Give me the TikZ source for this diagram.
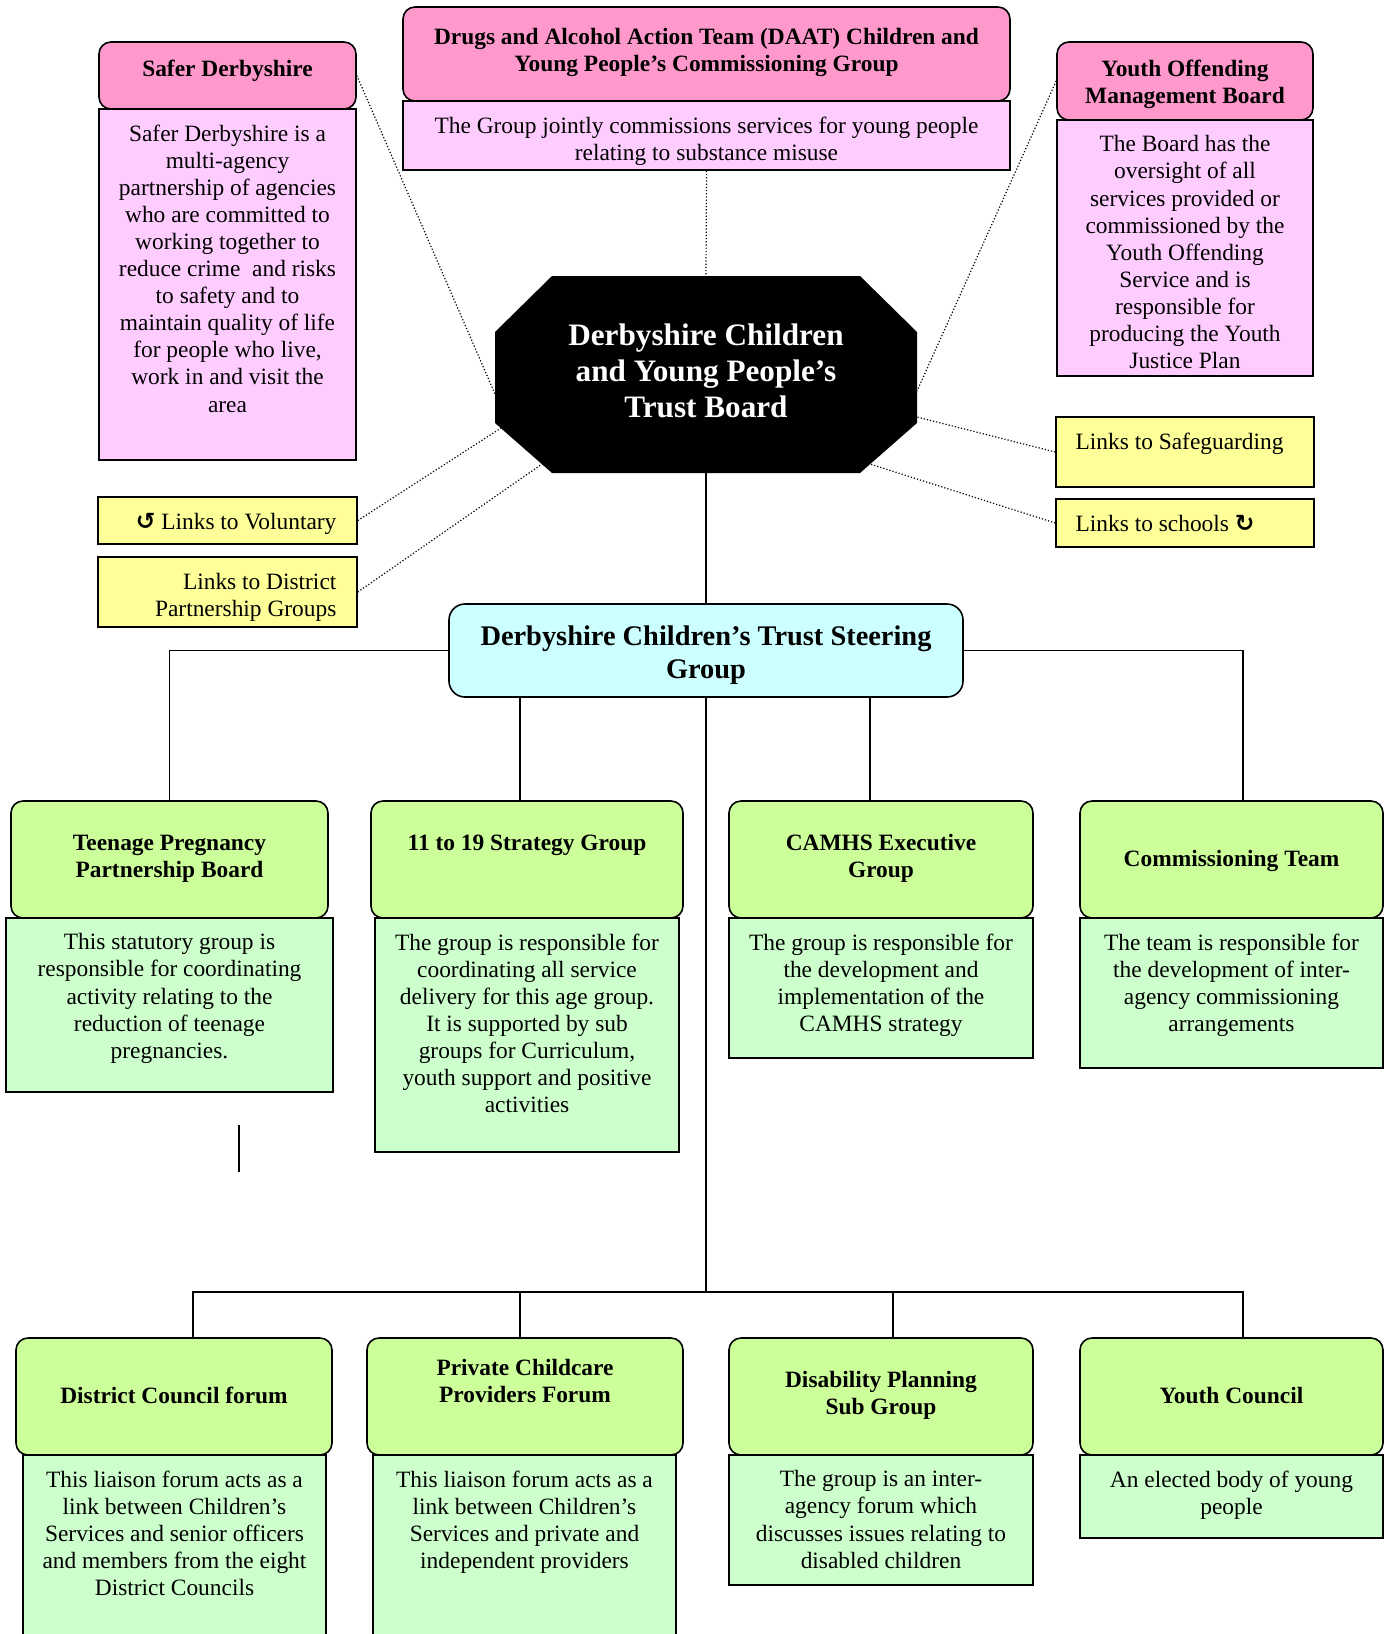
\documentclass[tikz,border=0pt]{standalone}
\usepackage{fontspec}
\setmainfont{Liberation Serif}
\newfontfamily\symf{DejaVu Sans}
\usetikzlibrary{positioning,fit}
\definecolor{hpink}{HTML}{FF99CC}
\definecolor{bpink}{HTML}{FFCCFF}
\definecolor{lyellow}{HTML}{FFFF99}
\definecolor{scyan}{HTML}{CCFFFF}
\definecolor{hgreen}{HTML}{CCFF99}
\definecolor{bgreen}{HTML}{CCFFCC}
\tikzstyle{hd}=[draw=black,line width=.8pt,rounded corners=6pt,inner sep=0pt]
\tikzstyle{hp}=[hd,fill=hpink]
\tikzstyle{hg}=[hd,fill=hgreen]
\tikzstyle{bx}=[draw=black,line width=.8pt,inner sep=0pt]
\tikzstyle{bp}=[bx,fill=bpink]
\tikzstyle{bg}=[bx,fill=bgreen]
\tikzstyle{lk}=[bx,fill=lyellow]
\tikzstyle{tx}=[inner sep=0pt,align=center,font=\fontsize{11.7}{13.55}\selectfont]
\tikzstyle{ht}=[tx,font=\fontsize{11.7}{13.55}\selectfont\bfseries]
\tikzstyle{oct}=[minimum width=211pt,minimum height=98.5pt,inner sep=0pt,text=white,align=center,font=\fontsize{15.6}{18}\selectfont\bfseries]
\tikzstyle{dl}=[densely dotted,line width=.6pt]
\tikzstyle{ln}=[line width=.7pt]

\begin{document}
\begin{tikzpicture}[x=.5pt,y=-.5pt]
\useasboundingbox (0,0) rectangle (1386,1634);
\node[hp,fit={(99,42) (356,109)}] (saferH) {};
\node[ht] (saferHT) at ([yshift=2.2pt]saferH) {Safer Derbyshire};
\node[bp,fit={(99,109) (356,460)}] (saferB) {};
\node[tx,below=8pt of saferB.north] (saferT) {Safer Derbyshire is a\\multi-agency\\partnership of agencies\\who are committed to\\working together to\\reduce crime\ \ and risks\\to safety and to\\maintain quality of life\\for people who live,\\work in and visit the\\area};
\node[hp,fit={(403,7) (1010,101)}] (daatH) {};
\node[ht] (daatHT) at ([yshift=.6pt]daatH) {Drugs and Alcohol Action Team (DAAT) Children and\\Young People’s Commissioning Group};
\node[bp,fit={(403,101) (1010,170)}] (daatB) {};
\node[tx,below=8pt of daatB.north] (daatT) {The Group jointly commissions services for young people\\relating to substance misuse};
\node[hp,fit={(1057,42) (1313,120)}] (youthH) {};
\node[ht] (youthHT) at ([yshift=-1.8pt]youthH) {Youth Offending\\Management Board};
\node[bp,fit={(1057,120) (1313,376)}] (youthB) {};
\node[tx,below=8pt of youthB.north] (youthT) {The Board has the\\oversight of all\\services provided or\\commissioned by the\\Youth Offending\\Service and is\\responsible for\\producing the Youth\\Justice Plan};

\fill (552,276) -- (860,276) -- (917,332) -- (917,423) -- (860,473) -- (552,473) -- (495,423) -- (495,332) -- cycle;
\node[oct] (trust) at (706,374.5) {};
\node[oct] (trustT) at ([yshift=2pt]trust) {Derbyshire Children\\and Young People’s\\Trust Board};
\coordinate (tw1) at (495,394);
\coordinate (tw2) at (501,428);
\coordinate (tw3) at (542,464);
\coordinate (te1) at (917,391);
\coordinate (te2) at (917,417);
\coordinate (te3) at (870,464);

\node[lk,fit={(98,497) (357,544)}] (volLk) {};
\node[tx,anchor=east] (volT) at ([xshift=-10.5pt,yshift=-1.5pt]volLk.east) {{\symf\bfseries ↺} Links to Voluntary};
\node[lk,fit={(98,557) (357,627)}] (distLk) {};
\node[tx,anchor=east,align=right] (distT) at ([xshift=-10.5pt,yshift=-2.5pt]distLk.east) {Links to District\\Partnership Groups};
\node[lk,fit={(1056,417) (1314,487)}] (safeLk) {};
\node[tx,anchor=west] (safeT) at ([xshift=10pt,yshift=-14pt]safeLk.north west) {Links to Safeguarding};
\node[lk,fit={(1056,499) (1314,547)}] (schLk) {};
\node[tx,anchor=west] (schT) at ([xshift=10pt]schLk.west) {Links to schools {\symf\bfseries ↻}};
\node[hd,fill=scyan,rounded corners=8pt,fit={(449,604) (963,697)}] (steer) {};
\node[ht,font=\fontsize{14.2}{16.6}\selectfont\bfseries] (steerT) at ([yshift=-2.2pt]steer) {Derbyshire Children’s Trust Steering\\Group};

\node[hg,fit={(11,801) (328,918)}] (teenH) {};
\node[ht] (teenHT) at ([yshift=.4pt]teenH) {Teenage Pregnancy\\Partnership Board};
\node[bg,fit={(6,918) (333,1092)}] (teenB) {};
\node[tx,below=8pt of teenB.north] (teenT) {This statutory group is\\responsible for coordinating\\activity relating to the\\reduction of teenage\\pregnancies.};
\node[hg,fit={(371,801) (683,918)}] (ninH) {};
\node[ht] (ninHT) at ([yshift=-.6pt]ninH) {11 to 19 Strategy Group\\\strut};
\node[bg,fit={(375,918) (679,1152)}] (ninB) {};
\node[tx,below=8pt of ninB.north] (ninT) {The group is responsible for\\coordinating all service\\delivery for this age group.\\It is supported by sub\\groups for Curriculum,\\youth support and positive\\activities};
\node[hg,fit={(729,801) (1033,918)}] (camH) {};
\node[ht] (camHT) at ([yshift=.4pt]camH) {CAMHS Executive\\Group};
\node[bg,fit={(729,918) (1033,1058)}] (camB) {};
\node[tx,below=8pt of camB.north] (camT) {The group is responsible for\\the development and\\implementation of the\\CAMHS strategy};
\node[hg,fit={(1080,801) (1383,918)}] (commH) {};
\node[ht] (commHT) at ([yshift=-.7pt]commH) {Commissioning Team};
\node[bg,fit={(1080,918) (1383,1068)}] (commB) {};
\node[tx,below=8pt of commB.north] (commT) {The team is responsible for\\the development of inter-\\agency commissioning\\arrangements};

\node[hg,fit={(16,1338) (332,1455)}] (dcH) {};
\node[ht] (dcHT) at ([yshift=.4pt]dcH) {District Council forum};
\node[bg,fit={(23,1455) (326,1645)}] (dcB) {};
\node[tx,below=8pt of dcB.north] (dcT) {This liaison forum acts as a\\link between Children’s\\Services and senior officers\\and members from the eight\\District Councils};
\node[hg,fit={(367,1338) (683,1455)}] (pcH) {};
\node[ht] (pcHT) at ([yshift=-1.1pt]pcH) {Private Childcare\\Providers Forum\\\strut};
\node[bg,fit={(373,1455) (676,1645)}] (pcB) {};
\node[tx,below=8pt of pcB.north] (pcT) {This liaison forum acts as a\\link between Children’s\\Services and private and\\independent providers};
\node[hg,fit={(729,1338) (1033,1455)}] (dsH) {};
\node[ht] (dsHT) at ([yshift=.4pt]dsH) {Disability Planning\\Sub Group};
\node[bg,fit={(729,1455) (1033,1585)}] (dsB) {};
\node[tx,below=8pt of dsB.north] (dsT) {The group is an inter-\\agency forum which\\discusses issues relating to\\disabled children};
\node[hg,fit={(1080,1338) (1383,1455)}] (ycH) {};
\node[ht] (ycHT) at ([yshift=.4pt]ycH) {Youth Council};
\node[bg,fit={(1080,1455) (1383,1538)}] (ycB) {};
\node[tx,below=8pt of ycB.north] (ycT) {An elected body of young\\people};

\draw[dl] (saferH.east) -- (tw1);
\draw[dl] (daatB.south) -- (trust.north);
\draw[dl] (youthH.west) -- (te1);
\draw[dl] (volLk.east) -- (tw2);
\draw[dl] (distLk.east) -- (tw3);
\draw[dl] (safeLk.west) -- (te2);
\draw[dl] (schLk.west) -- (te3);

\draw[ln] (trust.south) -- (steer.north);
\draw[ln] (steer.west) -| (teenH.north);
\draw[ln] (steer.east) -| (commH.north -| 1243,0);
\draw[ln] (steer.south -| 520,0) -- (ninH.north -| 520,0);
\draw[ln] (steer.south -| 870,0) -- (camH.north -| 870,0);
\coordinate (bus) at (706,1292);
\draw[ln] (steer.south) -- (bus);
\draw[ln] (dcH.north -| 193,0) |- (bus) -| (ycH.north -| 1243,0);
\foreach \x/\n in {520/pcH,893/dsH} \draw[ln] (bus -| \x,0) -- (\n.north -| \x,0);
\draw[ln] (239,1125) -- (239,1172);
\end{tikzpicture}
\end{document}
